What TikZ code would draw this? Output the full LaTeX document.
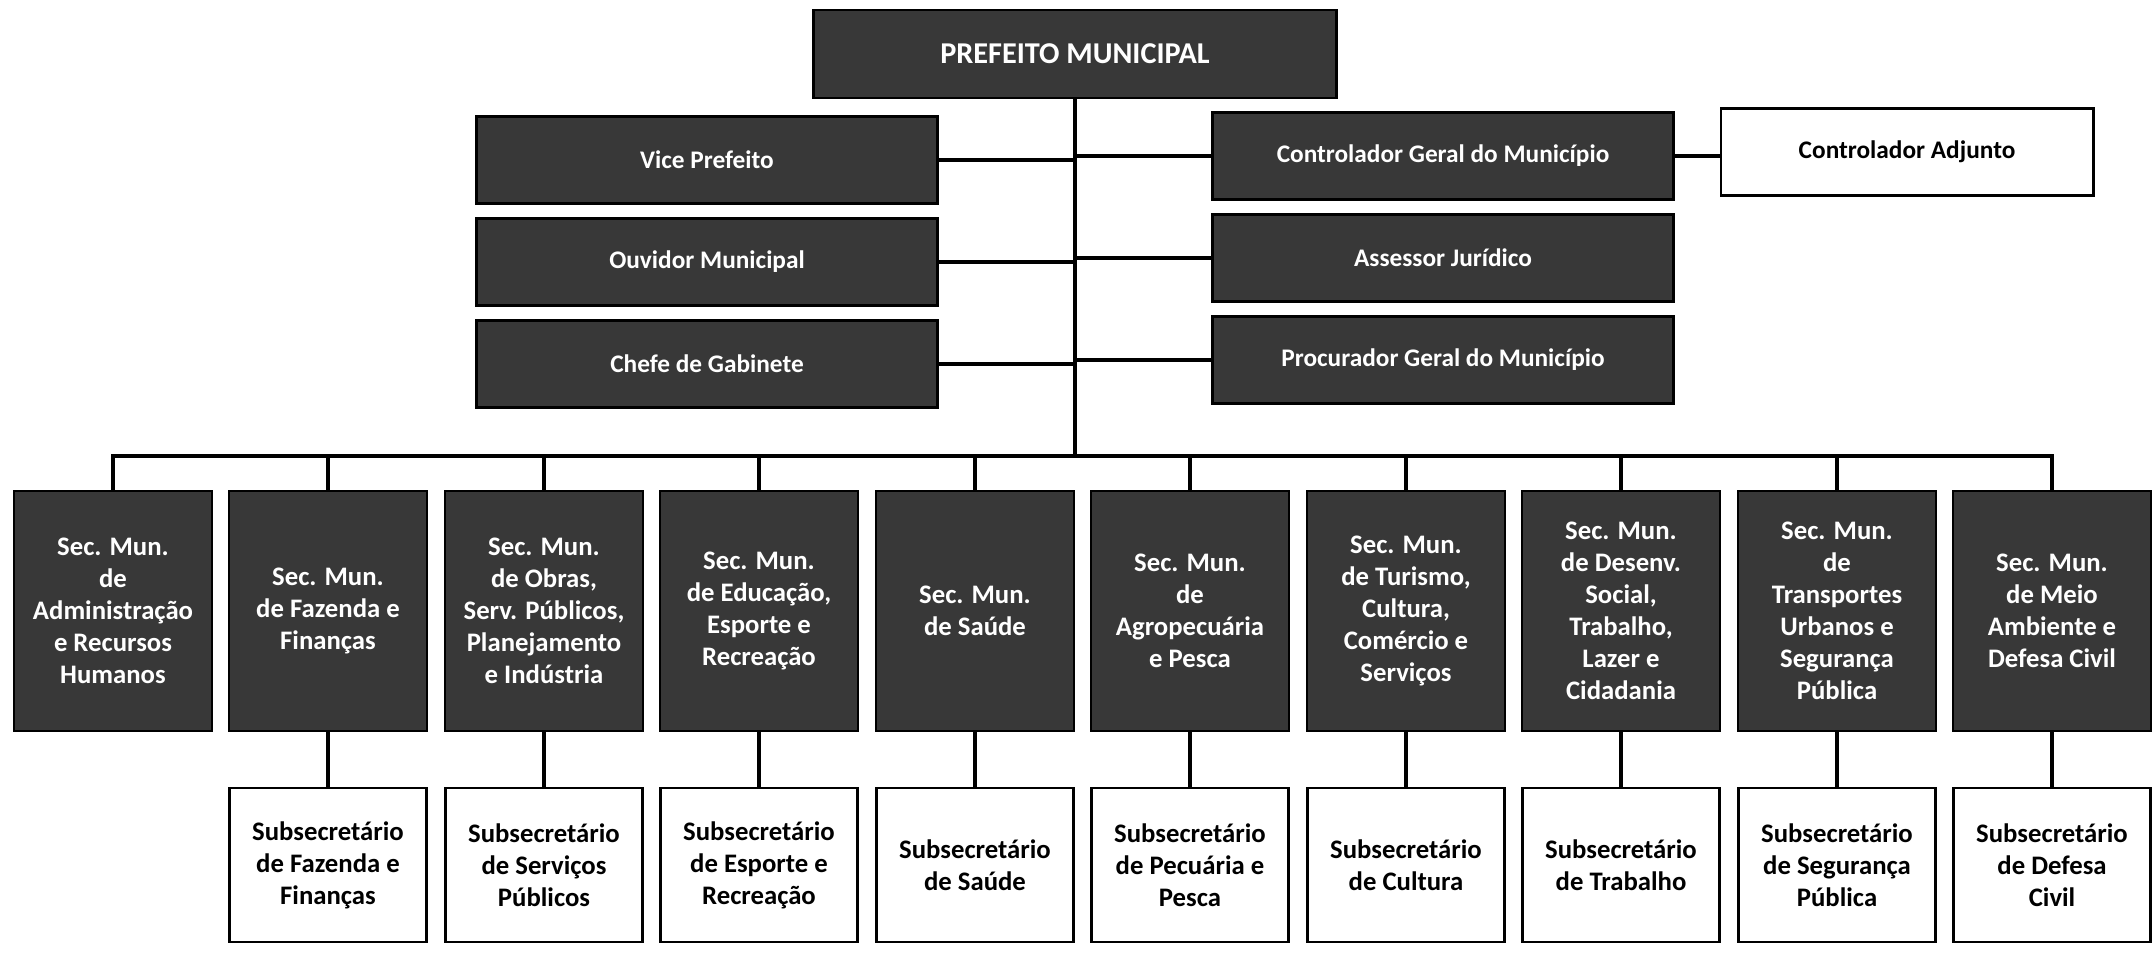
\documentclass[tikz,border=0pt]{standalone}
\usepackage{fontspec}
\setmainfont{Carlito}
\usetikzlibrary{positioning}

\begin{document}
\begin{tikzpicture}[x=0.01cm,y=-0.01cm,
    nodes={draw, thick, align=center},
    dark/.style={fill=black!78, text=white},
    pale/.style={fill=white, text=black},
    staff/.style={minimum width=4.6cm, minimum height=0.87cm, font=\bfseries\fontsize{7.2}{8.6}\selectfont},
    sec/.style={dark, minimum width=1.98cm, minimum height=2.4cm, inner sep=1pt, font=\bfseries\fontsize{7.6}{9.1}\selectfont},
    subsec/.style={pale, minimum width=1.97cm, minimum height=1.54cm, inner sep=1pt, font=\bfseries\fontsize{7.6}{9.1}\selectfont},
    link/.style={line width=1.3pt}]
    \useasboundingbox (0,0) rectangle (2152,955);

    \node [dark, minimum width=5.22cm, minimum height=0.88cm, font=\bfseries\fontsize{8.6}{10}\selectfont] (pm) at (1075,54) {PREFEITO MUNICIPAL};
    \node [dark, staff] (vp) at (707,160) {Vice Prefeito};
    \node [dark, staff] (ov) at (707,262) {Ouvidor Municipal};
    \node [dark, staff] (cg) at (707,364) {Chefe de Gabinete};
    \node [dark, staff] (ct) at (1443,156) {Controlador Geral do Município};
    \node [dark, staff] (aj) at (1443,258) {Assessor Jurídico};
    \node [dark, staff] (pg) at (1443,360) {Procurador Geral do Município};
    \node [pale, staff, minimum width=3.72cm] (ca) at (1907,152) {Controlador Adjunto};
    \coordinate (bus) at (1075,456);

    % secretarias
    \node [sec] (s1) at (113,611) {Sec. Mun.\\de\\Administração\\e Recursos\\Humanos};
    \node [sec] (s2) at (328,611) {Sec. Mun.\\de Fazenda e\\Finanças};
    \node [sec] (s3) at (544,611) {Sec. Mun.\\de Obras,\\Serv. Públicos,\\Planejamento\\e Indústria};
    \node [sec] (s4) at (759,611) {Sec. Mun.\\de Educação,\\Esporte e\\Recreação};
    \node [sec] (s5) at (975,611) {Sec. Mun.\\de Saúde};
    \node [sec] (s6) at (1190,611) {Sec. Mun.\\de\\Agropecuária\\e Pesca};
    \node [sec] (s7) at (1406,611) {Sec. Mun.\\de Turismo,\\Cultura,\\Comércio e\\Serviços};
    \node [sec] (s8) at (1621,611) {Sec. Mun.\\de Desenv.\\Social,\\Trabalho,\\Lazer e\\Cidadania};
    \node [sec] (s9) at (1837,611) {Sec. Mun.\\de\\Transportes\\Urbanos e\\Segurança\\Pública};
    \node [sec] (s10) at (2052,611) {Sec. Mun.\\de Meio\\Ambiente e\\Defesa Civil};

    % subsecretarios
    \node [subsec] (b2) [below=0.54cm of s2] {Subsecretário\\de Fazenda e\\Finanças};
    \node [subsec] (b3) [below=0.54cm of s3] {Subsecretário\\de Serviços\\Públicos};
    \node [subsec] (b4) [below=0.54cm of s4] {Subsecretário\\de Esporte e\\Recreação};
    \node [subsec] (b5) [below=0.54cm of s5] {Subsecretário\\de Saúde};
    \node [subsec] (b6) [below=0.54cm of s6] {Subsecretário\\de Pecuária e\\Pesca};
    \node [subsec] (b7) [below=0.54cm of s7] {Subsecretário\\de Cultura};
    \node [subsec] (b8) [below=0.54cm of s8] {Subsecretário\\de Trabalho};
    \node [subsec] (b9) [below=0.54cm of s9] {Subsecretário\\de Segurança\\Pública};
    \node [subsec] (b10) [below=0.54cm of s10] {Subsecretário\\de Defesa\\Civil};

    \draw [link] (pm) -- (pm |- bus);
    \draw [link] (vp) -- (vp -| pm) (ov) -- (ov -| pm) (cg) -- (cg -| pm);
    \draw [link] (ct) -- (ct -| pm) (aj) -- (aj -| pm) (pg) -- (pg -| pm);
    \draw [link] (ct) -- (ct -| ca.west);
    \draw [link] (s1) |- (bus) -| (s10);
    \draw [link] (s2 |- bus) -- (s2) (s3 |- bus) -- (s3) (s4 |- bus) -- (s4) (s5 |- bus) -- (s5)
        (s6 |- bus) -- (s6) (s7 |- bus) -- (s7) (s8 |- bus) -- (s8) (s9 |- bus) -- (s9);
    \draw [link] (s2) -- (b2) (s3) -- (b3) (s4) -- (b4) (s5) -- (b5) (s6) -- (b6)
        (s7) -- (b7) (s8) -- (b8) (s9) -- (b9) (s10) -- (b10);
\end{tikzpicture}
\end{document}
